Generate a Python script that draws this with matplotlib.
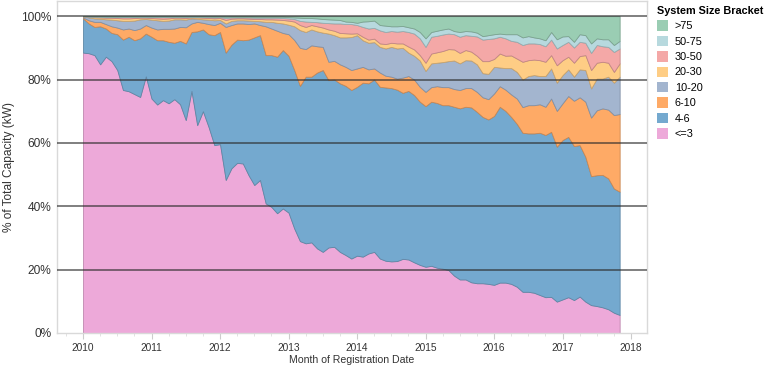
import numpy as np
import matplotlib.pyplot as plt
from matplotlib.patches import Patch
from matplotlib.colors import to_rgb

# Monthly registrations, Jan 2010 .. Nov 2017 (95 months)
# Upper edge (cumulative % of total capacity) of each size bracket
top_le3 = [88.5, 88.3, 87.7, 84.8, 87.2, 85.8, 83.0, 76.7, 76.3, 75.4, 74.5, 81.0,
           74.0, 72.1, 73.5, 72.5, 73.8, 72.2, 67.2, 76.4, 65.6, 70.0, 65.0, 59.3,
           59.6, 48.3, 52.0, 53.7, 53.5, 49.8, 46.7, 48.3, 40.9, 39.8, 37.8, 39.3,
           38.0, 33.0, 29.0, 28.3, 28.6, 26.7, 25.6, 27.0, 27.2, 25.6, 24.6, 23.5,
           24.4, 24.1, 25.1, 25.6, 23.5, 22.8, 22.6, 22.7, 23.4, 23.2, 22.3, 21.5,
           20.9, 21.2, 20.6, 20.3, 19.9, 18.1, 16.9, 16.9, 16.0, 15.7, 15.7, 15.5,
           15.2, 15.9, 15.9, 15.5, 14.6, 13.0, 13.0, 12.7, 12.0, 11.3, 11.4, 9.9,
           10.6, 11.3, 10.4, 11.5, 9.9, 8.8, 8.5, 8.1, 7.5, 6.4, 5.7]
top_4_6 = [99.3, 97.7, 96.6, 96.8, 96.1, 94.7, 94.3, 92.6, 93.5, 92.4, 93.0, 94.5,
           93.5, 92.4, 92.4, 91.9, 91.6, 92.2, 91.4, 95.0, 95.2, 95.8, 94.3, 94.0,
           95.0, 88.5, 91.0, 92.6, 92.4, 92.6, 93.3, 94.0, 87.7, 87.7, 87.2, 89.3,
           87.5, 83.0, 78.0, 80.9, 80.9, 82.2, 83.0, 79.8, 80.0, 78.8, 78.0, 76.7,
           77.7, 79.0, 78.8, 80.0, 77.7, 77.5, 77.3, 76.8, 75.8, 76.4, 75.1, 73.0,
           71.6, 73.0, 72.6, 71.9, 71.9, 71.4, 70.9, 71.4, 71.2, 69.8, 68.2, 67.4,
           68.5, 71.4, 70.1, 68.2, 66.0, 63.2, 63.0, 63.0, 63.2, 62.5, 63.5, 58.8,
           60.9, 61.9, 59.0, 59.3, 55.6, 49.5, 49.8, 49.9, 48.8, 45.6, 44.6]
top_6_10 = [99.6, 98.7, 98.2, 98.2, 97.5, 96.8, 96.4, 95.8, 96.1, 95.6, 96.1, 97.2,
            96.4, 95.8, 96.0, 96.0, 96.1, 96.6, 96.5, 97.7, 98.2, 97.9, 97.5, 97.2,
            97.9, 96.6, 97.2, 97.7, 97.7, 97.5, 97.7, 97.2, 96.8, 96.1, 95.4, 94.7,
            94.3, 92.5, 90.0, 89.6, 90.8, 90.5, 90.3, 85.6, 85.9, 84.8, 84.0, 83.0,
            83.5, 84.0, 83.2, 83.5, 82.2, 81.2, 80.9, 80.3, 80.6, 81.1, 80.0, 77.7,
            76.1, 77.6, 77.9, 77.6, 77.6, 77.0, 76.7, 77.3, 77.3, 76.1, 74.4, 73.8,
            75.6, 77.9, 76.8, 75.3, 74.0, 71.3, 71.9, 71.9, 72.2, 71.4, 74.0, 70.1,
            72.5, 74.8, 73.3, 74.4, 73.0, 68.0, 70.3, 70.9, 70.5, 68.8, 69.1]
top_10_20 = [99.9, 99.6, 99.3, 99.2, 99.0, 98.9, 98.7, 98.5, 98.5, 98.6, 99.0, 99.1,
             98.9, 98.7, 98.5, 98.6, 99.0, 99.0, 98.9, 99.3, 99.2, 99.0, 98.9, 98.7,
             98.8, 97.7, 98.5, 98.7, 98.7, 98.6, 98.5, 98.4, 98.2, 98.2, 97.9, 97.7,
             97.3, 96.8, 95.6, 95.0, 95.8, 95.2, 94.8, 94.5, 94.0, 93.3, 93.3, 93.4,
             94.0, 92.4, 91.6, 91.8, 90.3, 89.8, 90.3, 89.8, 90.0, 88.5, 87.5, 86.0,
             82.7, 85.1, 85.3, 85.5, 85.8, 86.0, 85.1, 86.1, 86.0, 84.8, 82.0, 81.8,
             84.0, 83.8, 83.6, 83.6, 82.4, 80.0, 81.1, 81.4, 81.1, 81.1, 83.5, 79.0,
             81.4, 83.2, 80.9, 83.2, 83.0, 77.2, 80.3, 80.3, 80.9, 79.0, 80.9]
top_20_30 = [99.95, 99.8, 99.7, 99.6, 99.5, 99.5, 99.4, 99.3, 99.3, 99.4, 99.5, 99.5,
             99.4, 99.3, 99.2, 99.3, 99.5, 99.5, 99.4, 99.6, 99.6, 99.5, 99.4, 99.3,
             99.4, 98.8, 99.2, 99.3, 99.3, 99.2, 99.1, 99.1, 99.0, 99.0, 98.9, 98.8,
             98.6, 98.3, 97.2, 96.6, 97.2, 96.8, 96.4, 95.8, 95.4, 94.7, 94.6, 94.5,
             94.6, 93.5, 92.6, 92.9, 91.4, 91.2, 91.6, 91.4, 91.4, 90.4, 89.5, 87.7,
             85.3, 88.2, 88.6, 89.0, 89.6, 89.5, 88.4, 89.3, 88.8, 87.5, 85.8, 85.8,
             86.5, 88.2, 87.5, 87.6, 86.6, 85.6, 86.1, 86.3, 86.1, 85.6, 87.7, 84.5,
             86.1, 87.2, 85.3, 87.4, 87.7, 83.0, 85.3, 85.6, 85.3, 82.4, 85.1]
top_30_50 = [99.98, 99.9, 99.9, 99.85, 99.8, 99.8, 99.8, 99.75, 99.75, 99.8, 99.8, 99.8,
             99.8, 99.7, 99.7, 99.7, 99.8, 99.8, 99.7, 99.8, 99.8, 99.8, 99.7, 99.6,
             99.7, 99.4, 99.6, 99.6, 99.6, 99.6, 99.5, 99.5, 99.5, 99.5, 99.5, 99.4,
             99.3, 99.1, 98.5, 98.3, 98.2, 98.1, 97.9, 97.8, 97.7, 97.7, 97.5, 97.5,
             97.2, 96.6, 96.1, 96.3, 95.5, 95.0, 95.3, 95.1, 95.3, 95.0, 94.5, 93.0,
             90.3, 93.5, 93.8, 94.2, 94.5, 94.3, 93.5, 94.0, 93.8, 93.6, 92.6, 92.8,
             93.0, 93.5, 93.0, 92.2, 91.9, 90.9, 91.4, 91.4, 91.2, 90.5, 92.6, 89.8,
             90.9, 91.9, 90.1, 91.9, 91.6, 88.4, 90.9, 90.5, 90.3, 88.7, 89.8]
top_50_75 = [100.0, 99.95, 99.95, 99.95, 99.9, 99.9, 99.9, 99.9, 99.9, 99.9, 99.9, 99.9,
             99.9, 99.9, 99.9, 99.9, 99.9, 99.9, 99.9, 99.9, 99.9, 99.9, 99.9, 99.85,
             99.9, 99.8, 99.85, 99.85, 99.85, 99.85, 99.8, 99.8, 99.8, 99.8, 99.8, 99.8,
             99.7, 99.6, 99.5, 99.4, 99.4, 99.3, 99.1, 99.0, 98.9, 98.8, 98.3, 98.2,
             97.9, 98.3, 98.4, 98.6, 97.2, 97.0, 96.8, 96.8, 96.9, 96.5, 96.1, 95.0,
             93.0, 95.0, 95.4, 95.8, 96.1, 95.3, 95.0, 95.3, 95.2, 94.8, 93.7, 94.0,
             94.3, 94.5, 94.3, 94.3, 94.3, 93.3, 93.7, 93.3, 93.0, 92.4, 95.0, 92.7,
             93.6, 93.7, 91.9, 94.3, 94.0, 91.4, 93.0, 92.7, 92.7, 90.9, 92.2]
top_gt75 = [100.0] * 95

brackets = ["<=3", "4-6", "6-10", "10-20", "20-30", "30-50", "50-75", ">75"]
colors = ["#EDA9D9", "#74A9CF", "#FEAA66", "#A3B5CF", "#FECD85", "#F4A8A7", "#B7D9DE", "#9ACDB3"]

tops = np.array([top_le3, top_4_6, top_6_10, top_10_20, top_20_30, top_30_50, top_50_75, top_gt75])
shares = np.diff(np.vstack([np.zeros(tops.shape[1]), tops]), axis=0)
months = 2010 + np.arange(tops.shape[1]) / 12.0

plt.rcParams['font.family'] = ['Liberation Sans', 'DejaVu Sans']

fig = plt.figure(figsize=(7.68, 3.69), dpi=100)
ax = fig.add_axes([0.0742, 0.0976, 0.768, 0.899])

polys = ax.stackplot(months, shares, colors=colors, linewidth=0.6)
for p, c in zip(polys, colors):
    dark = tuple(v * 0.8 for v in to_rgb(c))
    p.set_edgecolor(dark)

for yv in [20, 40, 60, 80, 100]:
    ax.axhline(yv, color="#2b2b2b", alpha=0.7, lw=1.2, zorder=5)

ax.set_xlim(2009.62, 2018.23)
ax.set_ylim(0, 104.7)
ax.set_xticks(range(2010, 2019))
ax.set_xticklabels([str(y) for y in range(2010, 2019)], fontsize=7.3, color="#333333")
ax.set_xticks(np.arange(2009.75, 2018.25, 0.25), minor=True)
ax.set_yticks([0, 20, 40, 60, 80, 100])
ax.set_yticklabels(["0%", "20%", "40%", "60%", "80%", "100%"], fontsize=8.6, color="#333333")
ax.tick_params(axis="y", length=0, pad=4)
ax.tick_params(axis="x", which="major", length=4, color="#cccccc", pad=3)
ax.tick_params(axis="x", which="minor", length=2, color="#dddddd")
for s in ax.spines.values():
    s.set_color("#d9d9d9")
    s.set_linewidth(1.0)

ax.set_ylabel("% of Total Capacity (kW)", fontsize=8.6, color="#333333", labelpad=4)
ax.set_xlabel("Month of Registration Date", fontsize=7.6, color="#333333", labelpad=2)

handles = [Patch(facecolor=colors[k], edgecolor="none") for k in range(7, -1, -1)]
labels = [brackets[k] for k in range(7, -1, -1)]
leg = fig.legend(handles, labels, title="System Size Bracket", loc="upper left",
                 bbox_to_anchor=(0.845, 1.005), frameon=False, fontsize=7.8,
                 title_fontsize=7.8, handlelength=1.1, handleheight=1.1,
                 handletextpad=0.6, labelspacing=0.42, borderpad=0.2)
leg.get_title().set_fontweight("bold")
leg._legend_box.align = "left"

fig.savefig("out.png", dpi=100)
